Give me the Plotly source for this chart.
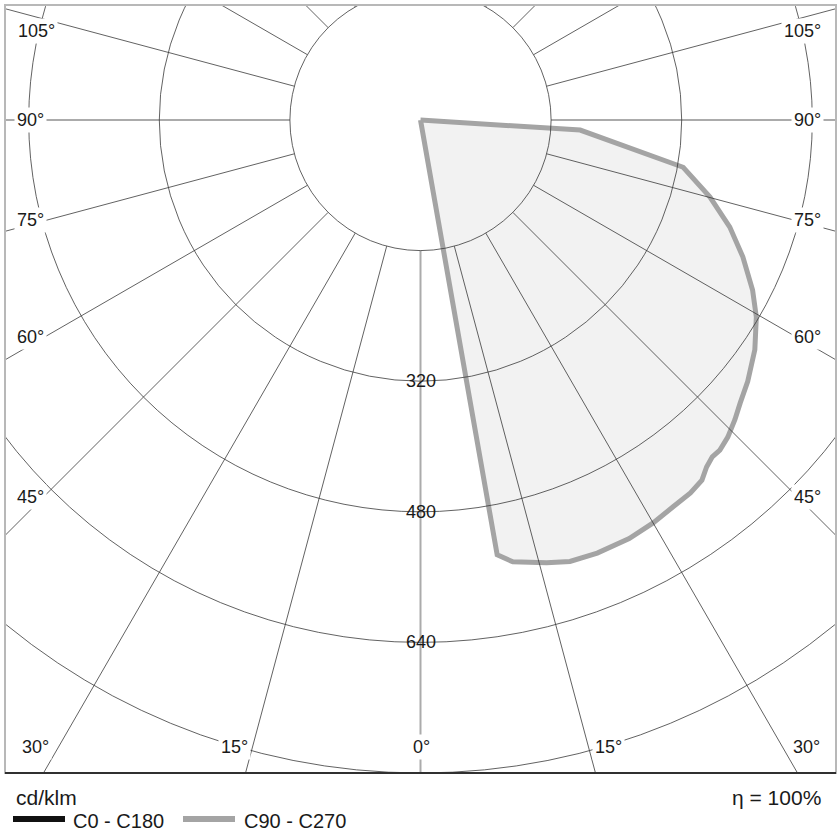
import numpy as np
import plotly.graph_objects as go

# ---------------- data ----------------
# C90 - C270 curve: gamma angle (deg from nadir, towards C90 side) and intensity (cd/klm)
gamma_deg = [0, 10.0, 11.8, 15.9, 18.7, 22.2, 26.5, 30.0, 33.1, 35.9, 38.0, 39.5, 40.9,
             42.2, 44.1, 46.4, 48.5, 51.4, 55.5, 59.6, 62.9, 67.0, 70.9, 75.1, 79.8,
             86.4, 90]
intensity = [0, 541, 553, 564, 571, 573, 573, 570, 566, 564, 560, 551, 546,
             546, 541, 532, 523, 513, 497, 477, 457, 429, 401, 367, 327,
             196, 0]

grid_radii = [160, 320, 480, 640, 800]
value_ticks = [320, 480, 640]
spoke_angles = list(range(0, 360, 15))
angle_ticks = [105, 90, 75, 60, 45, 30, 15, 0]
series_names = ["C0 - C180", "C90 - C270"]
unit_text = "cd/klm"
eta_text = "η = 100%"

# ---------------- geometry / layout ----------------
W, H = 840, 840
L, R, T, B = 5, 836, 5, 773           # plot area in pixels
CX, CY = 420.5, 120                    # pole position in pixels
S = (B - CY) / 800.0                   # pixels per cd/klm

xr = [(L - CX) / S, (R - CX) / S]
yr = [(CY - B) / S, (CY - T) / S]


def px2paper(px, py):
    return (px - L) / (R - L), (B - py) / (B - T)


FONT = "Liberation Sans, Arial, sans-serif"
g = np.radians(gamma_deg)
I = np.array(intensity, dtype=float)
x = I * np.sin(g)
y = -I * np.cos(g)

fig = go.Figure()
fig.add_trace(go.Scatter(x=x, y=y, mode="lines", fill="toself",
                         fillcolor="#f2f2f2",
                         line=dict(color="#a4a4a4", width=5),
                         name=series_names[1], showlegend=False,
                         hoverinfo="skip"))

shapes = []
# radial spokes
for a in spoke_angles:
    ar = np.radians(a)
    main = a % 90 == 0
    shapes.append(dict(type="line", xref="x", yref="y",
                       x0=160 * np.sin(ar), y0=-160 * np.cos(ar),
                       x1=1600 * np.sin(ar), y1=-1600 * np.cos(ar),
                       line=dict(color="#ababab" if main else "#3a3a3a",
                                 width=2 if main else 0.8)))
# circles
for r in grid_radii:
    shapes.append(dict(type="circle", xref="x", yref="y",
                       x0=-r, x1=r, y0=-r, y1=r,
                       line=dict(color="#3a3a3a", width=0.8)))
# frame
shapes.append(dict(type="rect", xref="paper", yref="paper", x0=0, x1=1, y0=0, y1=1,
                   line=dict(color="#b8b8b8", width=2)))
shapes.append(dict(type="line", xref="paper", yref="paper", x0=0, x1=1, y0=0, y1=0,
                   line=dict(color="#303030", width=2)))

annotations = []
# angle labels (placement in pixels, text from angle_ticks)
placement = {
    105: [(36, 31), (802, 31)],
    90: [(30, 120), (807, 120)],
    75: [(30, 220), (807, 220)],
    60: [(30, 337), (807, 337)],
    45: [(30, 497), (807, 497)],
    30: [(35, 747), (806, 747)],
    15: [(234, 747), (608, 747)],
    0: [(421, 747)],
}
for a in angle_ticks:
    for (px, py) in placement[a]:
        xp, yp = px2paper(px, py)
        annotations.append(dict(x=xp, y=yp, xref="paper", yref="paper",
                                text=f"{a}°", showarrow=False,
                                font=dict(family=FONT, size=18, color="#1a1a1a"),
                                bgcolor="white", borderpad=2,
                                xanchor="center", yanchor="middle"))
# value labels on the 0° axis
for v in value_ticks:
    annotations.append(dict(x=0, y=-v, xref="x", yref="y", text=str(v),
                            showarrow=False,
                            font=dict(family=FONT, size=18, color="#1a1a1a"),
                            xanchor="center", yanchor="middle"))

# unit and efficiency
xp, yp = px2paper(14, 797)
annotations.append(dict(x=xp, y=yp, xref="paper", yref="paper", text=unit_text,
                        showarrow=False, xanchor="left", yanchor="middle",
                        font=dict(family=FONT, size=21, color="#1a1a1a")))
xp, yp = px2paper(823, 797)
annotations.append(dict(x=xp, y=yp, xref="paper", yref="paper", text=eta_text,
                        showarrow=False, xanchor="right", yanchor="middle",
                        font=dict(family=FONT, size=21, color="#1a1a1a")))

# legend (manual)
legend_items = [(series_names[0], "#111111", 13, 65, 71),
                (series_names[1], "#a4a4a4", 183, 235, 242)]
for name, col, lx0, lx1, tx in legend_items:
    x0p, yp = px2paper(lx0, 819)
    x1p, _ = px2paper(lx1, 819)
    shapes.append(dict(type="line", xref="paper", yref="paper",
                       x0=x0p, x1=x1p, y0=yp, y1=yp,
                       line=dict(color=col, width=6)))
    txp, typ = px2paper(tx, 821)
    annotations.append(dict(x=txp, y=typ, xref="paper", yref="paper", text=name,
                            showarrow=False, xanchor="left", yanchor="middle",
                            font=dict(family=FONT, size=20, color="#1a1a1a")))

fig.update_layout(
    width=W, height=H,
    margin=dict(l=L, r=W - R, t=T, b=H - B, pad=0),
    paper_bgcolor="white", plot_bgcolor="white",
    xaxis=dict(range=xr, visible=False, fixedrange=True),
    yaxis=dict(range=yr, visible=False, fixedrange=True),
    shapes=shapes, annotations=annotations,
    showlegend=False,
)

fig.write_html("out.html", config={"displayModeBar": False},
               post_script="document.body.style.margin='0px';document.body.style.overflow='hidden';")
